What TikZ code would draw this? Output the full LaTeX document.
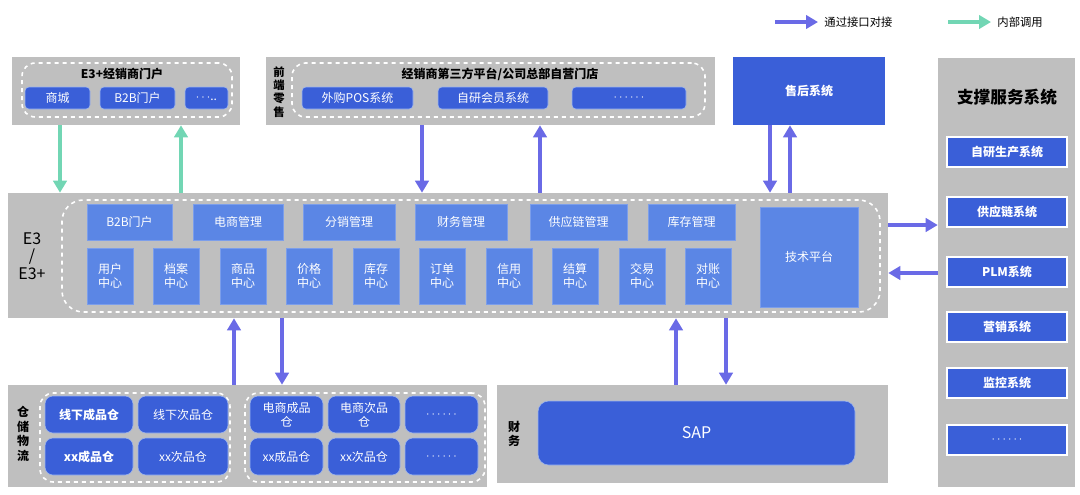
\documentclass[tikz,border=0pt]{standalone}
\usepackage{fontspec}
\setmainfont{Noto Sans CJK SC}
\usetikzlibrary{fit,arrows.meta,positioning}
\definecolor{panelgray}{HTML}{BFBFBF}
\definecolor{lightblue}{HTML}{5B86E5}
\definecolor{darkblue}{HTML}{3A5FD8}
\definecolor{linkblue}{HTML}{6A6AE6}
\definecolor{callgreen}{HTML}{72D6B4}
\begin{document}
\begin{tikzpicture}[x=0.75pt, y=-0.75pt, >={Triangle[length=9pt,width=10pt]},
    panel/.style={fill=panelgray, draw=none, inner sep=0pt},
    group/.style={draw=white, dashed, line width=1.2pt, rounded corners=10pt, inner sep=0pt},
    mod/.style={fill=lightblue, draw=lightblue!80!white, inner sep=0pt, text=white, font=\fontsize{9}{10.5}\selectfont, align=center},
    btn/.style={fill=darkblue, draw=lightblue!60!white, rounded corners=3pt, inner sep=0pt, text=white, font=\fontsize{9}{10.5}\selectfont, align=center},
    title/.style={font=\fontsize{9}{10.5}\selectfont\bfseries},
    link/.style={->, linkblue, line width=3pt},
    call/.style={->, callgreen, line width=3pt}]

    \useasboundingbox (0,0) rectangle (1080,494);

    % Legend
    \coordinate (lgA) at (775,22);
    \coordinate (lgB) at (818,22);
    \draw [link] (lgA) -- (lgB) node[right, black, font=\fontsize{8.5}{10}\selectfont] {通过接口对接};
    \coordinate (lgC) at (948,22);
    \coordinate (lgD) at (991,22);
    \draw [call] (lgC) -- (lgD) node[right, black, font=\fontsize{8.5}{10}\selectfont] {内部调用};

    % Dealer portal
    \node (portal) [panel, fit={(12,57) (240,125)}] {};
    \node (portalg) [group, fit={(22,63) (232,117)}] {};
    \node at (122,74) [title] {E3+经销商门户};
    \node (mall) [btn, fit={(25,87) (90,109)}] {};
    \node at (mall) [text=white, font=\fontsize{9}{10.5}\selectfont] {商城};
    \node (b2bp) [btn, fit={(100,87) (175,109)}] {};
    \node at (b2bp) [text=white, font=\fontsize{9}{10.5}\selectfont] {B2B门户};
    \node (more1) [btn, fit={(185,87) (228,109)}] {};
    \node at (more1) [text=white, font=\fontsize{9}{10.5}\selectfont] {$\cdots$..};

    % Retail front end
    \node (retail) [panel, fit={(266,57) (715,125)}] {};
    \node at (279,92) [title, align=center, font=\fontsize{8.5}{10}\selectfont\bfseries] {前\\端\\零\\售};
    \node (retailg) [group, fit={(292,63) (705,117)}] {};
    \node at (500,74) [title] {经销商第三方平台/公司总部自营门店};
    \foreach \xa/\xb/\txt [count=\i] in {302/413/外购POS系统, 438/548/自研会员系统, 572/686/$\cdots\cdots$} {
        \node (rb\i) [btn, fit={(\xa,87) (\xb,109)}] {};
        \node at (rb\i) [text=white, font=\fontsize{9}{10.5}\selectfont] {\txt};
    }

    % After-sales
    \node (after) [fill=darkblue, inner sep=0pt, fit={(733,57) (885,125)}] {};
    \node at (after) [text=white, title] {售后系统};

    % Support services
    \node (support) [panel, fit={(938,58) (1075,487)}] {};
    \node at (1007,97) [font=\fontsize{12.5}{14}\selectfont\bfseries] {支撑服务系统};
    \foreach \ya/\txt [count=\i] in {137/自研生产系统, 197/供应链系统, 257/PLM系统, 312/营销系统, 368/监控系统, 425/$\cdots\cdots$} {
        \node (sv\i) [fill=darkblue, draw=white, line width=0.8pt, inner sep=0pt, fit={(947,\ya) (1067,\ya+30)}] {};
        \node at (sv\i) [text=white, title] {\txt};
    }

    % E3 core
    \node (e3) [panel, fit={(8,193) (888,318)}] {};
    \node at (32,256) [align=center, font=\fontsize{12}{13}\selectfont] {E3\\/\\E3+};
    \node (e3g) [group, rounded corners=16pt, fit={(62,200) (880,312)}] {};
    \foreach \xa/\xb/\txt [count=\i] in {87/172/B2B门户, 193/283/电商管理, 303/395/分销管理, 415/507/财务管理, 530/627/供应链管理, 648/735/库存管理} {
        \node (mg\i) [mod, fit={(\xa,204) (\xb,240)}] {};
        \node at (mg\i) [text=white, font=\fontsize{9}{10.5}\selectfont] {\txt};
    }
    \foreach \xc/\txt [count=\i] in {110/用户, 176/档案, 243/商品, 309/价格, 376/库存, 442/订单, 509/信用, 575/结算, 642/交易, 708/对账} {
        \node (ct\i) [mod, fit={(\xc-23,248) (\xc+23,304)}] {};
        \node at (ct\i) [text=white, align=center, font=\fontsize{9}{11}\selectfont] {\txt\\中心};
    }
    \node (tech) [mod, fit={(760,207) (858,307)}] {};
    \node at (tech) [text=white, font=\fontsize{9}{10.5}\selectfont] {技术平台};

    % Warehouse logistics
    \node (wh) [panel, fit={(8,385) (487,487)}] {};
    \node at (23,434) [align=center, font=\fontsize{9}{11}\selectfont\bfseries] {仓\\储\\物\\流};
    \node (whg1) [group, fit={(40,393) (230,482)}] {};
    \node (whg2) [group, fit={(245,393) (485,482)}] {};
    \foreach \xa/\xb/\ya/\txt/\fnt [count=\i] in {45/133/396/线下成品仓/\bfseries, 138/228/396/线下次品仓/, 45/133/438/xx成品仓/\bfseries, 138/228/438/xx次品仓/,
            250/323/396/{电商成品\\仓}/, 328/400/396/{电商次品\\仓}/, 405/478/396/$\cdots\cdots$/, 250/323/438/xx成品仓/, 328/400/438/xx次品仓/, 405/478/438/$\cdots\cdots$/} {
        \node (wb\i) [btn, rounded corners=6pt, fit={(\xa,\ya) (\xb,\ya+37)}] {};
        \node at (wb\i) [text=white, align=center, font=\fontsize{9}{10.5}\selectfont\fnt] {\txt};
    }

    % Finance
    \node (fin) [panel, fit={(497,385) (888,483)}] {};
    \node at (514,434) [align=center, font=\fontsize{9}{11}\selectfont\bfseries] {财\\务};
    \node (sap) [fill=darkblue, draw=lightblue!60!white, rounded corners=8pt, inner sep=0pt, fit={(538,401) (855,465)}] {};
    \node at (sap) [text=white, font=\fontsize{12}{13}\selectfont] {SAP};

    % Arrows
    \draw [call] (portal.south -| 60,0) -- (e3.north -| 60,0);
    \draw [call] (e3.north -| 181,0) -- (portal.south -| 181,0);
    \draw [link] (retail.south -| 422,0) -- (e3.north -| 422,0);
    \draw [link] (e3.north -| 540,0) -- (retail.south -| 540,0);
    \draw [link] (after.south -| 770,0) -- (e3.north -| 770,0);
    \draw [link] (e3.north -| 790,0) -- (after.south -| 790,0);
    \draw [link] (e3.east |- 0,225) -- (support.west |- 0,225);
    \draw [link] (support.west |- 0,273) -- (e3.east |- 0,273);
    \draw [link] (wh.north -| 234,0) -- (e3.south -| 234,0);
    \draw [link] (e3.south -| 282,0) -- (wh.north -| 282,0);
    \draw [link] (fin.north -| 676,0) -- (e3.south -| 676,0);
    \draw [link] (e3.south -| 726,0) -- (fin.north -| 726,0);

\end{tikzpicture}
\end{document}
